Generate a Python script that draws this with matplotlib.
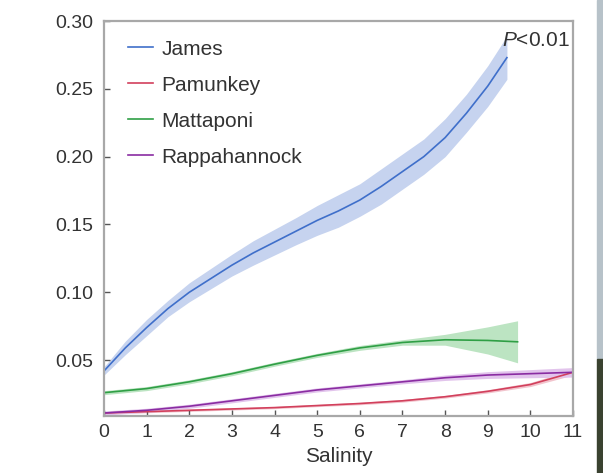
import numpy as np
import matplotlib
matplotlib.use("Agg")
import matplotlib.pyplot as plt
from matplotlib.patches import Rectangle

plt.rcParams['font.family'] = ['Liberation Sans', 'DejaVu Sans']
plt.rcParams['mathtext.fontset'] = 'custom'
plt.rcParams['mathtext.it'] = 'Liberation Sans:italic'
plt.rcParams['mathtext.rm'] = 'Liberation Sans'

# fitted curves and their confidence half-widths vs salinity
james_x = [0, 0.5, 1, 1.5, 2, 2.5, 3, 3.5, 4, 4.5, 5, 5.5, 6, 6.5, 7, 7.5, 8, 8.5, 9, 9.45]
james_y = [0.042, 0.059, 0.074, 0.088, 0.100, 0.110, 0.120, 0.129, 0.137, 0.145, 0.153, 0.160,
           0.168, 0.178, 0.189, 0.200, 0.214, 0.232, 0.252, 0.273]
james_ci = [0.003, 0.005, 0.006, 0.006, 0.007, 0.0075, 0.008, 0.009, 0.0095, 0.010, 0.011, 0.012,
            0.012, 0.013, 0.013, 0.013, 0.014, 0.014, 0.015, 0.016]

pam_x = [0, 1, 2, 3, 4, 5, 6, 7, 8, 9, 10, 11]
pam_y = [0.011, 0.012, 0.013, 0.014, 0.015, 0.0165, 0.018, 0.020, 0.023, 0.027, 0.032, 0.041]
pam_ci = [0.0008, 0.0008, 0.0008, 0.0008, 0.0008, 0.0008, 0.0009, 0.001, 0.001, 0.0012, 0.0015, 0.002]

mat_x = [0, 1, 2, 3, 4, 5, 6, 7, 8, 9, 9.7]
mat_y = [0.026, 0.029, 0.034, 0.040, 0.047, 0.0535, 0.059, 0.063, 0.065, 0.0645, 0.0635]
mat_ci = [0.0015, 0.0015, 0.0015, 0.0015, 0.0015, 0.0015, 0.0018, 0.002, 0.004, 0.010, 0.0155]

rap_x = [0, 1, 2, 3, 4, 5, 6, 7, 8, 9, 10, 11]
rap_y = [0.011, 0.013, 0.016, 0.020, 0.024, 0.028, 0.031, 0.034, 0.037, 0.039, 0.040, 0.041]
rap_ci = [0.0015, 0.0015, 0.0015, 0.0015, 0.0015, 0.0015, 0.0015, 0.0015, 0.002, 0.0025, 0.003, 0.0035]

series = [
    ("James", james_x, james_y, james_ci, "#3f6fca", "#c6d3ef"),
    ("Pamunkey", pam_x, pam_y, pam_ci, "#d2405c", "#f2c4cd"),
    ("Mattaponi", mat_x, mat_y, mat_ci, "#2f9f45", "#bce4c2"),
    ("Rappahannock", rap_x, rap_y, rap_ci, "#8a2ca2", "#e2c4ec"),
]

fig = plt.figure(figsize=(6.03, 4.73), dpi=100)
ax = fig.add_axes([104 / 603, 57 / 473, 469 / 603, 395 / 473])

for name, x, y, ci, col, fill in series:
    x = np.array(x)
    y = np.array(y)
    ci = np.array(ci)
    ax.fill_between(x, y - ci, y + ci, color=fill, lw=0, zorder=1)
for name, x, y, ci, col, fill in series:
    ax.plot(x, y, color=col, lw=1.2, label=name, zorder=2)

ax.set_xlim(0, 11)
ax.set_ylim(0.0088, 0.30)
ax.set_xticks(range(0, 12))
ax.set_yticks([0.05, 0.10, 0.15, 0.20, 0.25, 0.30])
ax.set_yticklabels(["0.05", "0.10", "0.15", "0.20", "0.25", "0.30"])
ax.tick_params(direction='in', length=4, width=1, color='#555555',
               labelsize=14, labelcolor='#333333')
ax.tick_params(axis='x', pad=6)
ax.tick_params(axis='y', pad=8)
for s in ax.spines.values():
    s.set_color('#a8a8a8')
    s.set_linewidth(1.6)
ax.set_xlabel("Salinity", fontsize=15, color='#333333', labelpad=4)

leg = ax.legend(loc='upper left', frameon=False, fontsize=15, handlelength=1.2,
                handletextpad=0.4, labelspacing=0.82, borderaxespad=0.3,
                bbox_to_anchor=(0.02, 0.99))
for t in leg.get_texts():
    t.set_color('#333333')

ax.text(0.993, 0.975, r"$\mathit{P}$<0.01", transform=ax.transAxes, ha='right', va='top',
        fontsize=15, color='#333333')

# photo edge on the right side of the page
fig.patches.append(Rectangle((597 / 603, 0.24), 6 / 603, 0.76, transform=fig.transFigure,
                             color='#b7c2c9', zorder=0))
fig.patches.append(Rectangle((597 / 603, 0.0), 6 / 603, 0.24, transform=fig.transFigure,
                             color='#3a4230', zorder=0))

fig.savefig("out.png", dpi=100)
